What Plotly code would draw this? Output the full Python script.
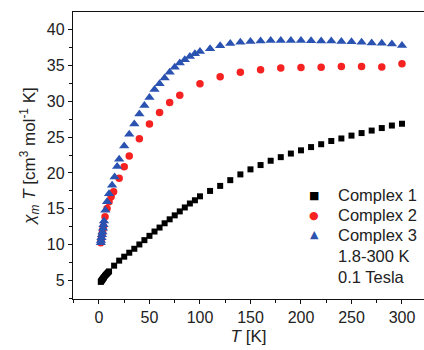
import plotly.graph_objects as go

# Complex 1
T1 = [1.8, 2, 2.5, 3, 3.5, 4, 4.5, 5, 6, 7, 8, 9, 10,
      15, 20, 25, 30, 35, 40, 45, 50, 55, 60, 65, 70, 75, 80, 85, 90, 95, 100,
      110, 120, 130, 140, 150, 160, 170, 180, 190, 200, 210, 220, 230, 240, 250,
      260, 270, 280, 290, 300]
chiT1 = [4.85, 4.9, 5.0, 5.1, 5.2, 5.3, 5.4, 5.5, 5.7, 5.85, 6.0, 6.15, 6.3,
         7.1, 7.8, 8.35, 8.9, 9.45, 10.05, 10.65, 11.25, 11.85, 12.4, 13.0, 13.55,
         14.1, 14.65, 15.2, 15.75, 16.2, 16.75,
         17.5, 18.2, 19.0, 19.8, 20.5, 21.1, 21.7, 22.2, 22.7, 23.15, 23.6, 24.0,
         24.45, 24.8, 25.2, 25.55, 25.9, 26.25, 26.6, 26.85]

# Complex 2
T2 = [1.8, 2, 2.5, 3, 3.5, 4, 4.5, 6, 8, 10, 12, 14.5, 20, 25, 30, 40, 50, 60,
      70, 80, 100, 120, 140, 160, 180, 200, 220, 240, 260, 280, 300]
chiT2 = [10.3, 10.6, 11.0, 11.4, 11.8, 12.2, 12.6, 13.9, 15.05, 16.0, 16.7, 17.4,
         19.25, 20.85, 22.35, 24.75, 26.8, 28.4, 29.8, 30.8, 32.4, 33.4, 34.0,
         34.35, 34.6, 34.67, 34.7, 34.8, 34.8, 34.75, 35.2]

# Complex 3
T3 = [1.8, 2, 2.5, 3, 3.5, 4, 4.5, 5, 6.3, 8, 10, 13, 15.5, 18, 20,
      25, 30, 35, 40, 45, 50, 55, 60, 65, 70, 75, 80, 85, 90, 95, 100,
      110, 120, 130, 140, 150, 160, 170, 180, 190, 200, 210, 220, 230, 240, 250,
      260, 270, 280, 290, 300]
chiT3 = [10.3, 10.6, 11.0, 11.4, 11.8, 12.3, 12.8, 13.3, 14.8, 16.0, 17.1, 18.3,
         19.45, 20.9, 21.9, 23.75, 25.4, 26.8, 28.2, 29.4, 30.5, 31.6, 32.4, 33.2,
         34.0, 34.7, 35.3, 35.75, 36.2, 36.6, 36.9,
         37.3, 37.7, 38.0, 38.2, 38.3, 38.35, 38.45, 38.45, 38.45, 38.45, 38.4,
         38.35, 38.35, 38.3, 38.25, 38.2, 38.1, 38.05, 37.95, 37.75]

names = ["Complex 1", "Complex 2", "Complex 3"]
notes = ["1.8-300 K", "0.1 Tesla"]
x_ticks = [0, 50, 100, 150, 200, 250, 300]
y_ticks = [5, 10, 15, 20, 25, 30, 35, 40]

FONT = "Liberation Sans, Arial, sans-serif"
TXT = "#222222"
COLORS = ["#000000", "#f62222", "#2a52b0"]
GLYPHS = ["■", "●", "▲"]

fig = go.Figure()
fig.add_trace(go.Scatter(x=T1, y=chiT1, mode="markers", name=names[0],
                         marker=dict(symbol="square", size=6, color=COLORS[0])))
fig.add_trace(go.Scatter(x=T2, y=chiT2, mode="markers", name=names[1],
                         marker=dict(symbol="circle", size=7.5, color=COLORS[1])))
fig.add_trace(go.Scatter(x=T3, y=chiT3, mode="markers", name=names[2],
                         marker=dict(symbol="triangle-up", size=9, color=COLORS[2])))

axis_common = dict(showgrid=False, zeroline=False, showline=True, linecolor="#111111",
                   linewidth=1.3, ticks="outside", ticklen=4, tickwidth=1.2,
                   tickcolor="#111111", tickfont=dict(family=FONT, size=16, color=TXT))

fig.update_xaxes(range=[-25.7, 321.8], tickvals=x_ticks, mirror=True,
                 minor=dict(dtick=25, tick0=0, ticks="outside", ticklen=2.5,
                            tickwidth=1, tickcolor="#111111"),
                 title=dict(text="<i>T</i> [K]", font=dict(family=FONT, size=17, color=TXT),
                            standoff=4),
                 **axis_common)
fig.update_yaxes(range=[2.46, 42.4], tickvals=y_ticks,
                 minor=dict(dtick=2.5, tick0=0, ticks="outside", ticklen=2.5,
                            tickwidth=1, tickcolor="#111111"),
                 title=dict(text="<i>χ<sub>m</sub> T</i> [cm<sup>3</sup> mol<sup>-1</sup> K]",
                            font=dict(family=FONT, size=17, color=TXT), standoff=6),
                 **axis_common)

# legend drawn as text: paper coords computed from plot box (l=73, t=12, w=351, h=287)
def px_x(p):
    return (p - 73) / 351.0

def px_y(p):
    return 1 - (p - 12) / 287.0

rows = [195, 215, 235, 256, 277]
labels = names + notes
for i, t in enumerate(labels):
    fig.add_annotation(xref="paper", yref="paper", x=px_x(336), y=px_y(rows[i]),
                       text=t, showarrow=False, xanchor="left", yanchor="middle",
                       font=dict(family=FONT, size=16.5, color=TXT))
for i, g in enumerate(GLYPHS):
    fig.add_annotation(xref="paper", yref="paper", x=px_x(314), y=px_y(rows[i]),
                       text=g, showarrow=False, xanchor="center", yanchor="middle",
                       font=dict(family="DejaVu Sans", size=[11, 11, 11][i], color=COLORS[i]))

fig.update_layout(
    width=424, height=350,
    margin=dict(l=73, r=0, t=12, b=51),
    paper_bgcolor="white", plot_bgcolor="white",
    showlegend=False,
)

fig.write_html("out.html")
